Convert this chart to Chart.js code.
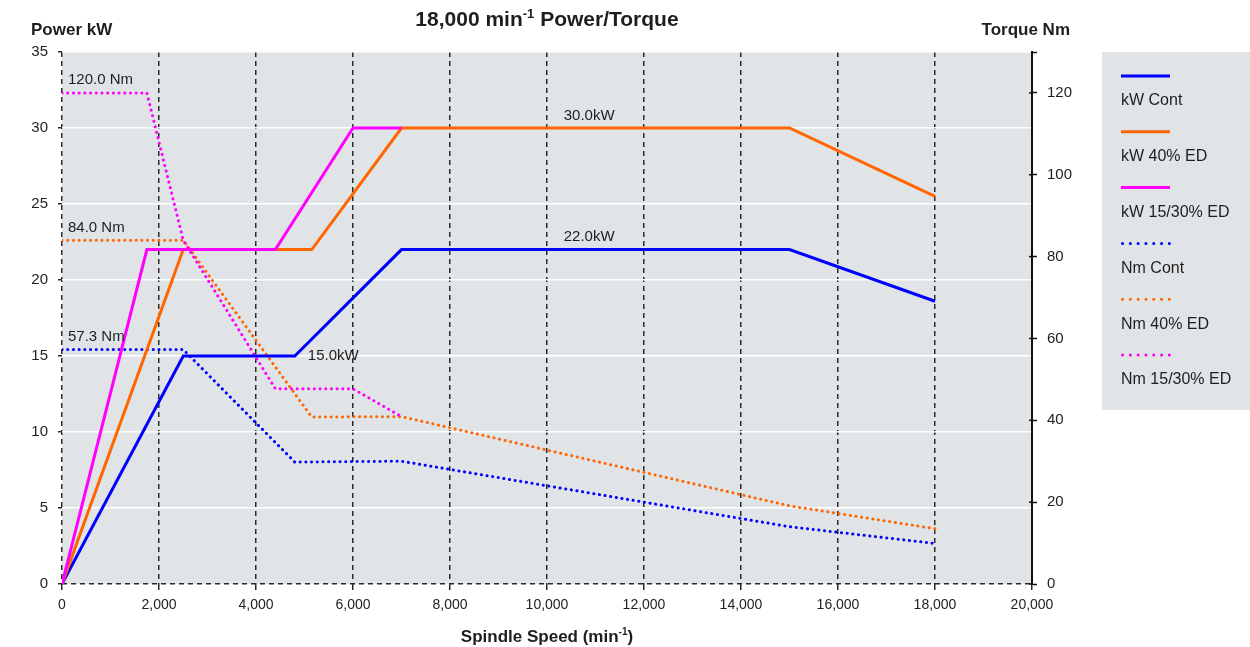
<!DOCTYPE html>
<html>
<head>
<meta charset="utf-8">
<script src="https://cdn.jsdelivr.net/npm/chart.js@4/dist/chart.umd.min.js"></script>
<style>
html,body{margin:0;padding:0;background:#fff;}
#wrap{width:1250px;height:647px;position:relative;}
</style>
</head>
<body>
<div id="wrap"><canvas id="c" width="1250" height="647"></canvas></div>
<script>
// ---------- DATA ----------
const seriesLabels = ['kW Cont','kW 40% ED','kW 15/30% ED','Nm Cont','Nm 40% ED','Nm 15/30% ED'];

const kwContSpeed  = [0, 2500, 4800, 7000, 15000, 18000];
const kwContPower  = [0, 15, 15, 22, 22, 18.6];
const kw40Speed    = [0, 2500, 5150, 7000, 15000, 18000];
const kw40Power    = [0, 22, 22, 30, 30, 25.5];
const kw1530Speed  = [0, 1750, 4400, 6000, 7000];
const kw1530Power  = [0, 22, 22, 30, 30];

const nmContSpeed  = [0, 2500, 4800, 7000, 15000, 18000];
const nmContTorque = [57.3, 57.3, 29.8, 30.0, 14.0, 9.9];
const nm40Speed    = [0, 2500, 5150, 7000, 15000, 18000];
const nm40Torque   = [84.0, 84.0, 40.8, 40.9, 19.1, 13.5];
const nm1530Speed  = [0, 1750, 2500, 4400, 6000, 7000];
const nm1530Torque = [120.0, 120.0, 84.0, 47.7, 47.7, 40.9];

const annoTexts = ['120.0 Nm', '84.0 Nm', '57.3 Nm', '15.0kW', '22.0kW', '30.0kW'];
const annoSpeed = [0, 0, 0, 4800, 10870, 10870];
const annoValue = [120.0, 84.0, 57.3, 15.0, 22.0, 30.0];
const annoAxis  = ['y1', 'y1', 'y1', 'y', 'y', 'y'];

const titleText = ['18,000 min', '-1', ' Power/Torque'];
const xTitleText = ['Spindle Speed (min', '-1', ')'];
const leftAxisTitle = 'Power kW';
const rightAxisTitle = 'Torque Nm';

// ---------- STYLE ----------
const FONT = '"Liberation Sans", Arial, Helvetica, sans-serif';
const TXT = '#1e1e1e';
const BLUE = '#0000ff', ORANGE = '#ff6600', MAGENTA = '#ff00ff';
const PLOT_BG = '#e1e4e7';
const colors = [BLUE, ORANGE, MAGENTA, BLUE, ORANGE, MAGENTA];
const dotted = [false, false, false, true, true, true];
const drawOrder = [2, 1, 0, 5, 4, 3];
// label offsets (px) relative to anchor, and alignment
const annoStyle = [
  {dx: 6, dy: -13, align: 'left'},
  {dx: 6, dy: -12, align: 'left'},
  {dx: 6, dy: -12.5, align: 'left'},
  {dx: 13, dy: 0, align: 'left'},
  {dx: 0, dy: -12.5, align: 'center'},
  {dx: 0, dy: -12.5, align: 'center'}
];

function pts(xs, ys){ return xs.map((x,i)=>({x:x, y:ys[i]})); }

const seriesData = [
  pts(kwContSpeed, kwContPower),
  pts(kw40Speed, kw40Power),
  pts(kw1530Speed, kw1530Power),
  pts(nmContSpeed, nmContTorque),
  pts(nm40Speed, nm40Torque),
  pts(nm1530Speed, nm1530Torque)
];

const datasets = seriesData.map((d,i)=>({
  label: seriesLabels[i],
  data: d,
  yAxisID: i < 3 ? 'y' : 'y1',
  borderColor: colors[i],
  backgroundColor: colors[i],
  borderWidth: 3,
  borderDash: dotted[i] ? [0.1, 5.6] : [],
  borderCapStyle: dotted[i] ? 'round' : 'butt',
  borderJoinStyle: 'miter',
  pointRadius: 0,
  tension: 0,
  fill: false,
  order: drawOrder[i]
}));

function drawSupText(ctx, parts, x, y, size, align){
  ctx.save();
  ctx.textBaseline = 'middle';
  ctx.textAlign = 'left';
  const big = 'bold ' + size + 'px ' + FONT;
  const small = 'bold ' + Math.round(size*0.6) + 'px ' + FONT;
  ctx.font = big; const w0 = ctx.measureText(parts[0]).width;
  ctx.font = small; const w1 = ctx.measureText(parts[1]).width;
  ctx.font = big; const w2 = ctx.measureText(parts[2]).width;
  const total = w0 + w1 + w2;
  let sx = align === 'center' ? x - total/2 : x;
  ctx.fillStyle = TXT;
  ctx.font = big; ctx.fillText(parts[0], sx, y);
  ctx.font = small; ctx.fillText(parts[1], sx + w0, y - size*0.3);
  ctx.font = big; ctx.fillText(parts[2], sx + w0 + w1, y);
  ctx.restore();
}

const decorPlugin = {
  id: 'decor',
  beforeDraw(chart){
    const {ctx, chartArea: a} = chart;
    ctx.save();
    ctx.fillStyle = '#fff';
    ctx.fillRect(0, 0, chart.width, chart.height);
    ctx.fillStyle = PLOT_BG;
    ctx.fillRect(a.left, a.top, a.right - a.left, a.bottom - a.top);
    // legend box
    ctx.fillRect(1102, 52, 148, 358);
    ctx.restore();
  },
  afterDraw(chart){
    const ctx = chart.ctx;
    const a = chart.chartArea;
    // inner tick marks of the right axis
    ctx.save();
    ctx.strokeStyle = '#111';
    ctx.lineWidth = 1.5;
    chart.scales.y1.ticks.forEach(t=>{
      if (t.value > 120) return;
      const py = chart.scales.y1.getPixelForValue(t.value);
      ctx.beginPath(); ctx.moveTo(a.right - 3, py); ctx.lineTo(a.right, py); ctx.stroke();
    });
    ctx.restore();
    // title
    drawSupText(ctx, titleText, (a.left + a.right)/2, 20.5, 21, 'center');
    // x-axis title
    drawSupText(ctx, xTitleText, (a.left + a.right)/2, 637, 17, 'center');
    // axis titles
    ctx.save();
    ctx.fillStyle = TXT;
    ctx.textBaseline = 'middle';
    ctx.font = 'bold 17px ' + FONT;
    ctx.textAlign = 'left';
    ctx.fillText(leftAxisTitle, 31, 30);
    ctx.textAlign = 'right';
    ctx.fillText(rightAxisTitle, 1070, 30);
    // annotations
    ctx.font = '15px ' + FONT;
    annoTexts.forEach((t,i)=>{
      const s = annoStyle[i];
      const px = chart.scales.x.getPixelForValue(annoSpeed[i]) + s.dx;
      const py = chart.scales[annoAxis[i]].getPixelForValue(annoValue[i]) + s.dy;
      ctx.textAlign = s.align;
      ctx.fillText(t, px, py);
    });
    // legend
    const lx0 = 1121, lx1 = 1170;
    const top0 = 76, step = 55.8;
    seriesLabels.forEach((lab,i)=>{
      const y = top0 + i*step;
      ctx.save();
      ctx.strokeStyle = colors[i];
      ctx.lineWidth = 3;
      if (dotted[i]) { ctx.setLineDash([0.1, 7.7]); ctx.lineCap = 'round'; }
      else { ctx.setLineDash([]); ctx.lineCap = 'butt'; }
      ctx.beginPath();
      ctx.moveTo(lx0 + (dotted[i] ? 1.5 : 0), y);
      ctx.lineTo(lx1, y);
      ctx.stroke();
      ctx.restore();
      ctx.fillStyle = TXT;
      ctx.font = '16px ' + FONT;
      ctx.textAlign = 'left';
      ctx.textBaseline = 'middle';
      ctx.fillText(lab, lx0, y + 25);
    });
    ctx.restore();
  }
};

new Chart(document.getElementById('c'), {
  type: 'line',
  data: { datasets: datasets },
  options: {
    responsive: false,
    animation: false,
    devicePixelRatio: 1,
    layout: { padding: { top: 52, right: 150, left: 0, bottom: 0 } },
    plugins: { legend: { display: false }, tooltip: { enabled: false }, title: { display: false } },
    scales: {
      x: {
        type: 'linear', min: 0, max: 20000,
        ticks: {
          stepSize: 2000, autoSkip: false, maxRotation: 0, padding: 7,
          color: TXT, font: { family: FONT, size: 14 },
          callback: v => Number(v).toLocaleString('en-US')
        },
        grid: { color: '#2a2a2a', lineWidth: 1.5, drawTicks: true, tickLength: 6, tickColor: '#2a2a2a', tickWidth: 1.5 },
        border: { display: false, dash: [5, 4] },
        afterFit(s){ s.height = 63; }
      },
      y: {
        position: 'left', min: 0, max: 35,
        ticks: { stepSize: 5, padding: 10, color: TXT, font: { family: FONT, size: 15 } },
        grid: {
          z: -1,
          color: c => (c.tick && c.tick.value === 0) ? '#2a2a2a' : '#ffffff',
          lineWidth: 1.5, drawTicks: true, tickLength: 4, tickColor: '#2a2a2a', tickWidth: 1.5
        },
        border: { display: false, dash: c => (c.tick && c.tick.value === 0) ? [5, 4] : [] },
        afterFit(s){ s.width = 62; }
      },
      y1: {
        position: 'right', min: 0, max: 130,
        ticks: { stepSize: 20, padding: 10, color: TXT, font: { family: FONT, size: 15 },
                 callback: v => (v <= 120 ? v : '') },
        grid: { drawOnChartArea: false, drawTicks: true, tickLength: 5, tickColor: '#111', tickWidth: 1.5 },
        border: { display: true, color: '#111', width: 2 },
        afterFit(s){ s.width = 68; }
      }
    }
  },
  plugins: [decorPlugin]
});
</script>
</body>
</html>
